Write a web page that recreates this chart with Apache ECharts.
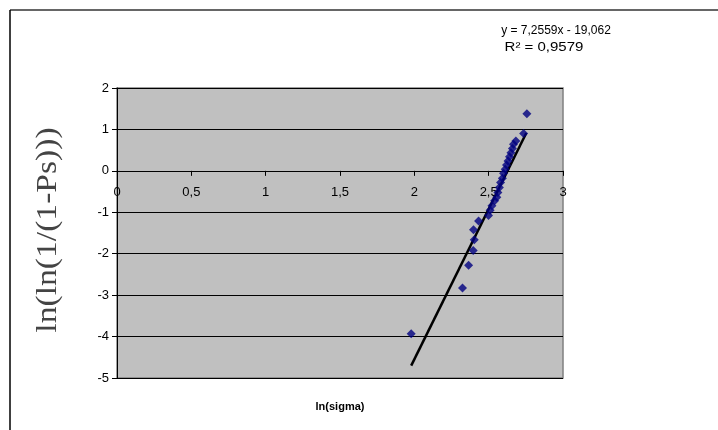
<!DOCTYPE html>
<html>
<head>
<meta charset="utf-8">
<script src="https://cdn.jsdelivr.net/npm/echarts@6/dist/echarts.min.js"></script>
<style>html,body{margin:0;padding:0;background:#fff;}#c{width:718px;height:430px;}</style>
</head>
<body>
<div id="c"></div>
<script>
// data: x = ln(sigma), y = ln(ln(1/(1-Ps)))
var xValues = [1.979, 2.324, 2.365, 2.396, 2.403, 2.398, 2.432, 2.499, 2.510, 2.522, 2.540, 2.555, 2.562, 2.572, 2.580, 2.592, 2.600, 2.611, 2.620, 2.630, 2.640, 2.650, 2.660, 2.667, 2.683, 2.735, 2.757];
var yValues = [-3.93, -2.83, -2.28, -1.92, -1.66, -1.42, -1.21, -1.08, -0.95, -0.84, -0.72, -0.64, -0.52, -0.40, -0.28, -0.18, -0.06, 0.04, 0.14, 0.24, 0.34, 0.44, 0.54, 0.64, 0.72, 0.90, 1.38];
var trendX = [1.979, 2.753];
var trendY = [-4.702, 0.913];
var xTickLabels = ['0', '0,5', '1', '1,5', '2', '2,5', '3'];
var yTickLabels = ['-5', '-4', '-3', '-2', '-1', '0', '1', '2'];
var equationText = 'y = 7,2559x - 19,062';
var r2Text = 'R\u00B2 = 0,9579';

var points = xValues.map(function (x, i) { return [x, yValues[i]]; });
var trend = trendX.map(function (x, i) { return [x, trendY[i]]; });

var gridTop = 88, gridBottom = 52, H = 430;
var yMin = -5, yMax = 2;
var plotH = H - gridTop - gridBottom;
var zeroOffset = -plotH * (0 - yMin) / (yMax - yMin);

var chart = echarts.init(document.getElementById('c'), null, {renderer: 'canvas'});
chart.setOption({
  animation: false,
  backgroundColor: '#ffffff',
  grid: {
    left: 117, right: 155, top: gridTop, bottom: gridBottom,
    show: true, backgroundColor: '#c0c0c0', borderColor: '#808080', borderWidth: 1.5
  },
  xAxis: {
    type: 'value', min: 0, max: 3, interval: 0.5,
    position: 'bottom', offset: zeroOffset,
    axisLine: {onZero: false, lineStyle: {color: '#000', width: 1}},
    axisTick: {show: true, inside: false, length: 5, lineStyle: {color: '#000'}},
    axisLabel: {
      margin: 15, color: '#000', fontFamily: 'Liberation Sans, Arial', fontSize: 13,
      formatter: function (v) { return xTickLabels[Math.round(v / 0.5)]; }
    },
    splitLine: {show: false}
  },
  yAxis: {
    type: 'value', min: yMin, max: yMax, interval: 1,
    axisLine: {show: true, onZero: false, lineStyle: {color: '#000', width: 1}},
    axisTick: {show: true, inside: false, length: 5, lineStyle: {color: '#000'}},
    axisLabel: {
      margin: 8, color: '#000', fontFamily: 'Liberation Sans, Arial', fontSize: 13,
      formatter: function (v) { return yTickLabels[Math.round(v - yMin)]; }
    },
    splitLine: {show: true, lineStyle: {color: '#000', width: 1}}
  },
  series: [
    {
      type: 'line', data: trend, symbol: 'none', z: 3,
      lineStyle: {color: '#000', width: 2.5}
    },
    {
      type: 'scatter', data: points, symbol: 'diamond', symbolSize: 9, z: 4,
      itemStyle: {color: '#000080'}
    }
  ],
  graphic: [
    {type: 'line', shape: {x1: 10, y1: 10, x2: 718, y2: 10}, style: {stroke: '#333', lineWidth: 1.5}},
    {type: 'line', shape: {x1: 10, y1: 10, x2: 10, y2: 430}, style: {stroke: '#000', lineWidth: 1.5}},
    {type: 'text', x: 556, y: 31, style: {text: equationText, fontFamily: 'Liberation Sans, Arial', fontSize: 12, fill: '#000', textAlign: 'center', textVerticalAlign: 'middle'}},
    {type: 'text', x: 544, y: 48, scaleX: 1.2, scaleY: 1, style: {text: r2Text, fontFamily: 'Liberation Sans, Arial', fontSize: 12.5, fill: '#000', textAlign: 'center', textVerticalAlign: 'middle'}},
    {type: 'text', x: 340, y: 407, style: {text: 'ln(sigma)', fontFamily: 'Liberation Sans, Arial', fontSize: 11, fontWeight: 'bold', fill: '#000', textAlign: 'center', textVerticalAlign: 'middle'}},
    {type: 'text', x: 48, y: 230, rotation: Math.PI / 2, scaleX: 1.12, scaleY: 1,
      style: {text: 'ln(ln(1/(1-Ps)))', fontFamily: 'Liberation Serif, Times New Roman', fontSize: 30, fill: '#444', textAlign: 'center', textVerticalAlign: 'middle'}}
  ]
});
</script>
</body>
</html>
